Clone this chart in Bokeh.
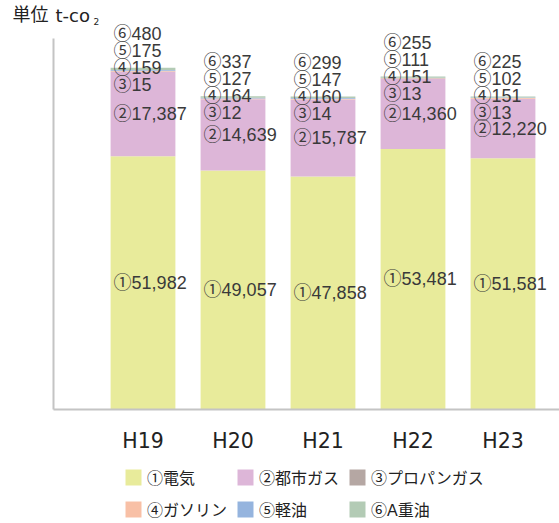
from bokeh.plotting import figure
from bokeh.layouts import column
from bokeh.models import ColumnDataSource, Range1d, FixedTicker, Legend, LegendItem, LabelSet, Label
from bokeh.core.properties import value
from bokeh.embed import file_html
from bokeh.resources import INLINE

years = ["H19", "H20", "H21", "H22", "H23"]
electricity = [51982, 49057, 47858, 53481, 51581]
city_gas = [17387, 14639, 15787, 14360, 12220]
propane = [15, 12, 14, 13, 13]
gasoline = [159, 164, 160, 151, 151]
light_oil = [175, 127, 147, 111, 102]
heavy_oil = [480, 337, 299, 255, 225]

series_names = ["①電気", "②都市ガス", "③プロパンガス", "④ガソリン", "⑤軽油", "⑥A重油"]
series_keys = ["electricity", "city_gas", "propane", "gasoline", "light_oil", "heavy_oil"]
colors = ["#e8eb9b", "#ddb6d8", "#b5a7a3", "#f8c0a6", "#95b4de", "#b3cbb5"]

FONT = "Liberation Sans, Noto Sans CJK JP"
TEXT_COLOR = "#3a3a3a"

W = 559
TOP_H = 455
LEG_H = 523 - TOP_H

# scale: 1000 t-CO2 = 4.87 px; one category = 90 px
PX_PER_UNIT_Y = 4.87 / 1000
Y_AXIS_TOP = 76200
y_start = -2 / PX_PER_UNIT_Y
y_end = 411 / PX_PER_UNIT_Y + y_start
x_start = -142.5 / 90
x_end = x_start + W / 90
x_axis_pos = x_start + 53 / 90

xs = list(range(len(years)))
src = ColumnDataSource(dict(x=xs, electricity=electricity, city_gas=city_gas, propane=propane,
                            gasoline=gasoline, light_oil=light_oil, heavy_oil=heavy_oil))

p = figure(width=W, height=TOP_H, output_backend="svg", toolbar_location=None,
           x_range=Range1d(x_start, x_end), y_range=Range1d(y_start, y_end),
           min_border_left=0, min_border_right=0, min_border_top=0, min_border_bottom=TOP_H - 411)
p.outline_line_color = None
p.xgrid.visible = False
p.ygrid.visible = False
p.yaxis.visible = False
p.background_fill_color = None
p.border_fill_color = "white"

renderers = p.vbar_stack(series_keys, x="x", width=0.72, source=src, color=colors, line_color=None)

# axis lines
p.segment(x0=[x_axis_pos, x_axis_pos], y0=[0, 0], x1=[x_axis_pos, x_end], y1=[Y_AXIS_TOP, 0],
          line_color="#c4c4c4", line_width=2)

p.xaxis.axis_line_color = None
p.xaxis.major_tick_line_color = None
p.xaxis.minor_tick_line_color = None
p.xaxis.ticker = FixedTicker(ticks=xs)
p.xaxis.major_label_overrides = {i: y for i, y in enumerate(years)}
p.xaxis.major_label_text_font = "DejaVu Sans"
p.xaxis.major_label_text_font_size = "20.5px"
p.xaxis.major_label_text_color = "#222222"
p.xaxis.major_label_standoff = 11

# value labels
lx, ly, lt, lo = [], [], [], []
for i in xs:
    e, c = electricity[i], city_gas[i]
    total = e + c + propane[i] + gasoline[i] + light_oil[i] + heavy_oil[i]
    left = i - 0.36
    lx += [left, left, left, left, left, left]
    ly += [e / 2, e + c / 2, total, total, total, total]
    lt += ["①" + f"{e:,}", "②" + f"{c:,}", "③" + f"{propane[i]:,}", "④" + f"{gasoline[i]:,}",
           "⑤" + f"{light_oil[i]:,}", "⑥" + f"{heavy_oil[i]:,}"]
    lo += [0, 0, -17, 0, 17, 34]
lsrc = ColumnDataSource(dict(x=lx, y=ly, text=lt, yoff=lo))
labels = LabelSet(x="x", y="y", text="text", y_offset="yoff", x_offset=3, source=lsrc,
                  text_font=value(FONT), text_font_size="18px", text_color=TEXT_COLOR,
                  text_align="left", text_baseline="middle")
p.add_layout(labels)

# unit title
p.add_layout(Label(x=12, y=386, x_units="screen", y_units="screen", text="単位",
                   text_font="Noto Sans CJK JP", text_font_size="18px", text_color="#222222"))
p.add_layout(Label(x=55, y=386, x_units="screen", y_units="screen", text="t-co",
                   text_font="DejaVu Sans", text_font_size="18px", text_color="#222222"))
p.add_layout(Label(x=93, y=387, x_units="screen", y_units="screen", text="2",
                   text_font="DejaVu Sans", text_font_size="9px", text_color="#222222"))

# legend strip: same series with zero-width bars outside the view, so only the legend shows
q = figure(width=W, height=LEG_H, output_backend="svg", toolbar_location=None,
           x_range=Range1d(x_start, x_end), y_range=Range1d(-3, -2),
           min_border_left=0, min_border_right=0, min_border_top=0, min_border_bottom=0)
q.outline_line_color = None
q.xgrid.visible = False
q.ygrid.visible = False
q.xaxis.visible = False
q.yaxis.visible = False
q.border_fill_color = "white"
q.background_fill_color = "white"
leg_renderers = q.vbar_stack(series_keys, x="x", width=0, source=src, color=colors, line_color=None)

legend = Legend(items=[LegendItem(label=n, renderers=[r]) for n, r in zip(series_names, leg_renderers)],
                location=(123, 2), orientation="horizontal", ncols=3,
                glyph_width=20, glyph_height=20, label_height=20, label_standoff=4,
                spacing=8, padding=0, margin=0, border_line_color=None,
                background_fill_alpha=0, label_text_font=FONT, label_text_font_size="16px",
                label_text_color="#222222")
q.add_layout(legend)

layout = column(p, q, spacing=0)
open("out.html", "w").write(file_html(layout, INLINE))
